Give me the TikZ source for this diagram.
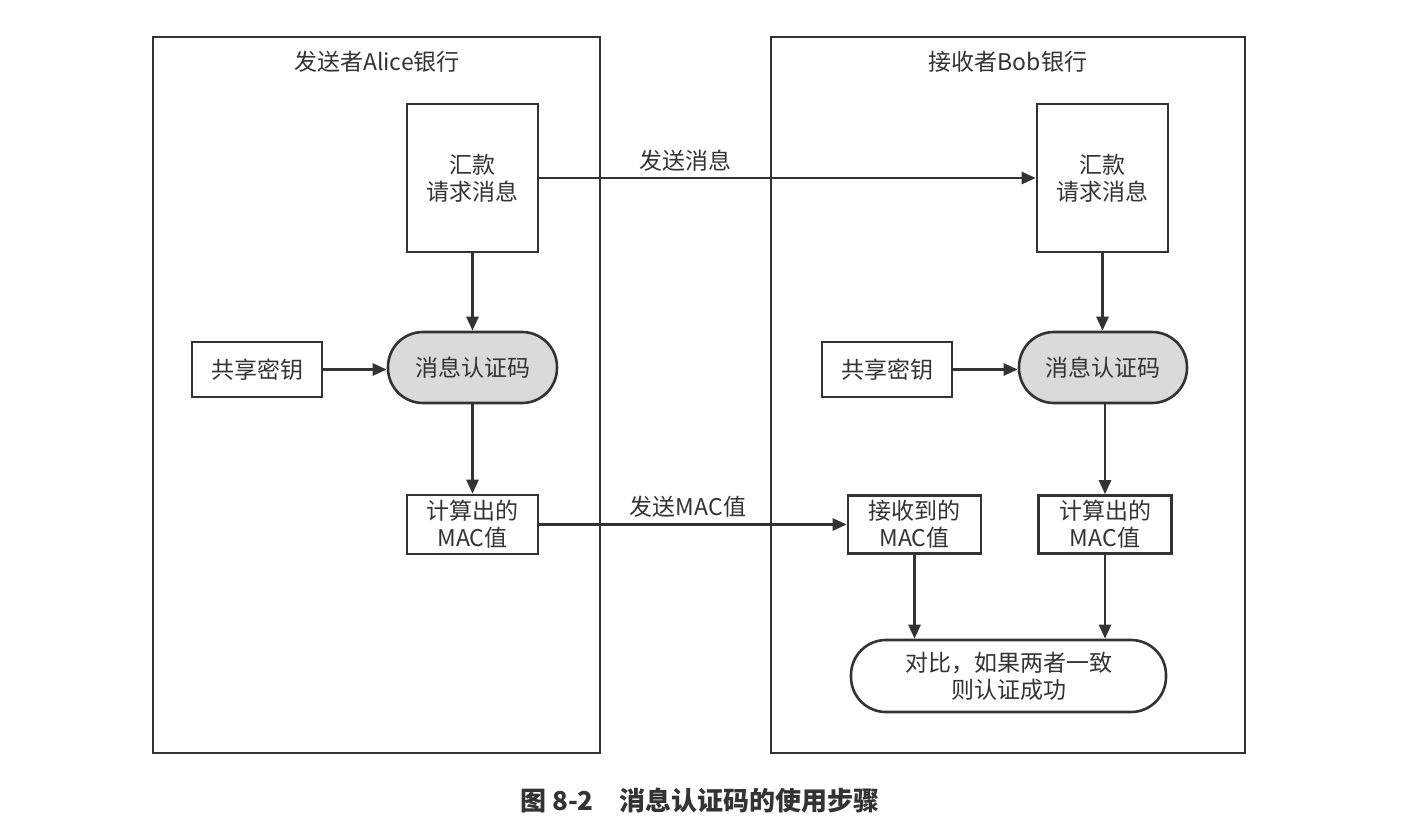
\documentclass[tikz,border=0pt]{standalone}
\usepackage{fontspec}
\setmainfont{Noto Sans CJK SC}
\usetikzlibrary{arrows.meta}
\definecolor{ink}{HTML}{333333}
\definecolor{shade}{HTML}{DADADA}
\begin{document}
\begin{tikzpicture}[x=1pt,y=-1pt,
  every node/.style={text=ink},
  frame/.style={draw=ink,line width=2.6pt,minimum width=#1,minimum height=716pt,inner sep=0pt},
  box/.style={draw=ink,line width=2.6pt,align=center,inner sep=0pt,font=\fontsize{23}{27}\selectfont},
  pill/.style={box,rounded corners=35pt},
  lbl/.style={font=\fontsize{23}{27}\selectfont,inner sep=0pt},
  arr/.style={draw=ink,line width=2.6pt,-{Triangle[length=14pt,width=12pt]}}
]
\useasboundingbox (0,0) rectangle (1425,830);
\fill[white] (0,0) rectangle (1425,830);
% frames
\node[frame=447pt] (lf) at (376.5,395) {};
\node[frame=474pt] (rf) at (1008,395) {};
\node[lbl] (lt) at (377,62) {发送者Alice银行};
\node[lbl] (rt) at (1008,62) {接收者Bob银行};
% left side
\node[box,minimum width=131pt,minimum height=148pt] (lmsg) at (472.5,178) {汇款\\请求消息};
\node[pill,fill=shade,minimum width=169pt,minimum height=71pt] (lmac) at (472.5,367.5) {消息认证码};
\node[box,minimum width=130pt,minimum height=55pt] (lkey) at (257,369.5) {共享密钥};
\node[box,minimum width=131pt,minimum height=59pt] (lcalc) at (472.5,524.5) {计算出的\\MAC值};
% right side
\node[box,minimum width=131pt,minimum height=148pt] (rmsg) at (1102.5,178) {汇款\\请求消息};
\node[pill,fill=shade,minimum width=168pt,minimum height=71pt] (rmac) at (1103,367.5) {消息认证码};
\node[box,minimum width=130pt,minimum height=55pt] (rkey) at (887,369.5) {共享密钥};
\node[box,minimum width=133pt,minimum height=58pt] (rcalc) at (1105,524.5) {计算出的\\MAC值};
\node[box,minimum width=133pt,minimum height=58pt] (recv) at (914.5,524.5) {接收到的\\MAC值};
\node[pill,minimum width=315pt,minimum height=72pt] (cmp) at (1008.5,676) {对比，如果两者一致\\则认证成功};
% arrows
\draw[arr] (lmsg.south) -- (lmsg.south |- lmac.north);
\draw[arr] (lkey.east) -- (lmac.west |- lkey.east);
\draw[arr] (lmac.south) -- (lcalc.north);
\draw[arr] (rmsg.south) -- (rmsg.south |- rmac.north);
\draw[arr] (rkey.east) -- (rmac.west |- rkey.east);
\draw[arr] (rmac.south -| rcalc.north) -- (rcalc.north);
\draw[arr] (recv.south) -- (recv.south |- cmp.north);
\draw[arr] (rcalc.south) -- (rcalc.south |- cmp.north);
\draw[arr] (lmsg.east) -- (rmsg.west);
\draw[arr] (lcalc.east) -- (recv.west);
\node[lbl] (sm) at (685,161) {发送消息};
\node[lbl] (smac) at (688,507) {发送MAC值};
% caption
\node[lbl,font=\fontsize{26}{30}\selectfont\bfseries] (cap) at (700,801) {图 8-2\hspace{1em}消息认证码的使用步骤};
\end{tikzpicture}
\end{document}
